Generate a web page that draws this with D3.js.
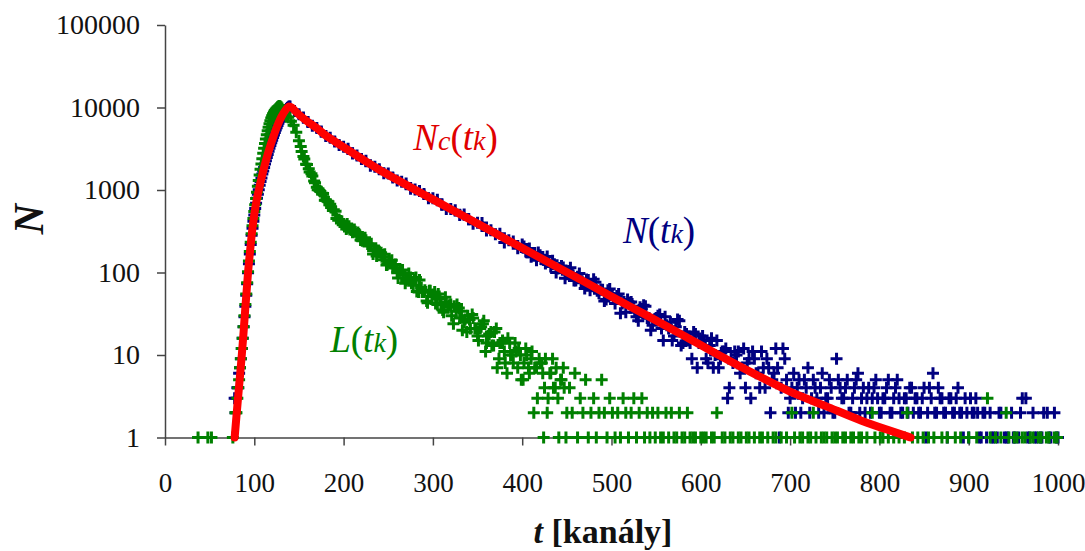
<!DOCTYPE html>
<html>
<head>
<meta charset="utf-8">
<script src="https://cdn.jsdelivr.net/npm/d3@7"></script>
<style>
  body { margin: 0; background: #fff; }
  svg { display: block; }
  svg text { font-family: "Liberation Serif", "Times New Roman", Tinos, "DejaVu Serif", "Noto Serif", serif !important; }
</style>
</head>
<body>
<svg width="1085" height="551"></svg>
<script>
// axis ticks
var xTicks = [0, 100, 200, 300, 400, 500, 600, 700, 800, 900, 1000];
var yTicks = [1, 10, 100, 1000, 10000, 100000];

// N(t_k) measured spectrum, [channel, counts]
var nRise = [[78,3],[79,2],[80,3],[81,4],[82,4],[83,6],[84,7],[85,9],[86,12],[87,16],[88,22],[89,29],
  [90,39],[91,53],[92,73],[93,99],[94,128],[95,168],[96,219],[97,283],[98,345],[99,418],[100,497],
  [101,598],[102,690],[103,792],[104,890],[105,1010],[106,1140],[107,1270],[108,1400],[109,1560],
  [110,1700],[111,1880],[112,2060],[113,2260],[114,2480],[115,2700],[116,2940],[117,3200],[118,3460],
  [119,3740],[120,4020],[121,4330],[122,4640],[123,4970],[124,5320],[125,5700],[126,6060],[127,6440],
  [128,6820],[129,7210],[130,7600],[131,7960],[132,8330],[133,8680],[134,9010],[135,9310],[136,9600],
  [137,9850],[138,10090],[139,10250]];
var nDecay = [[140,10260],[145,9054],[150,8273],[155,7539],[160,6667],[165,6015],[170,5628],[175,5134],
  [180,4522],[185,4298],[190,3878],[195,3512],[200,3345],[205,3154],[210,2770],[215,2620],[220,2375],
  [225,2265],[230,1972],[235,1909],[240,1787],[245,1600],[250,1586],[255,1418],[260,1305],[265,1263],
  [270,1198],[275,1038],[280,1012],[285,970],[290,892],[295,793],[300,793],[305,760],[310,663],
  [315,588],[320,589],[325,569],[330,496],[335,505],[340,443],[345,391],[350,402],[355,399],[360,324],
  [365,325],[370,290],[375,295],[380,231],[385,246],[390,238],[395,197],[400,218],[404,180],[408,195],
  [412,172],[416,141],[420,162],[424,142],[428,156],[432,118],[436,126],[440,112],[444,120],[448,85],
  [452,104],[456,93],[460,80],[464,97],[468,75],[472,82],[476,61],[480,83],[484,60],[488,62],[492,45],
  [496,61],[500,55],[504,42],[508,55],[512,42],[516,33],[520,43],[524,39],[528,29],[532,38],[536,40],
  [540,28],[544,20],[548,27],[552,30],[556,21],[560,29],[564,21],[568,15],[572,22],[576,26],[580,14],
  [584,18],[588,14],[592,19],[596,7],[600,14],[604,15],[608,8],[612,16],[616,10],[620,7],[624,11],
  [628,12],[632,4],[636,8],[640,10],[644,6],[648,12],[652,8],[656,3],[660,9],[664,6],[668,11],[672,4],
  [676,7],[680,5],[684,12],[688,1],[692,12],[696,5]];
var nDecayB = [[402,207],[406,176],[410,155],[414,172],[418,175],[422,145],[426,129],[430,136],
  [434,139],[438,100],[442,113],[446,115],[450,95],[454,114],[458,80],[462,89],[466,78],[470,64],
  [474,81],[478,69],[482,76],[486,56],[490,62],[494,47],[498,63],[502,49],[506,52],[510,32],[514,44],
  [518,47],[522,44],[526,33],[530,26],[534,36],[538,39],[542,28],[546,23],[550,28],[554,31],[558,15],
  [562,23],[566,25],[570,17],[574,27],[578,13],[582,19],[586,15],[590,9],[594,18],[598,14],[602,17],
  [606,9],[610,13],[614,7],[618,15],[622,9],[626,11],[630,3],[634,9],[638,11],[642,11],[646,7],
  [650,4],[654,9],[658,11],[662,6],[666,4],[670,7],[674,9],[678,2],[682,6],[686,7],[690,4],[694,9],
  [698,2]];
var nTail = [[700,3],[702,4],[704,6],[706,2],[708,4],[710,5],[712,2],[714,3],[716,5],[718,4],[720,7],
  [722,2],[724,3],[726,5],[728,4],[730,3],[732,2],[734,4],[736,6],[738,2],[740,3],[742,3],[744,5],
  [746,4],[748,2],[750,2],[752,9],[754,5],[756,4],[758,3],[760,3],[762,4],[764,5],[766,2],[768,2],
  [770,3],[772,4],[774,5],[776,6],[778,2],[780,3],[782,4],[784,2],[786,3],[788,4],[790,2],[792,3],
  [794,4],[796,5],[798,3],[800,2],[802,2],[804,3],[806,3],[808,4],[810,5],[812,2],[814,2],[816,3],
  [818,4],[820,5],[822,3],[824,2],[826,2],[828,3],[830,3],[832,2],[834,4],[836,4],[838,2],[840,3],
  [842,3],[844,2],[846,2],[848,3],[850,4],[852,1],[854,2],[856,4],[858,3],[860,6],[862,2],[864,2],
  [866,4],[868,3],[870,3],[872,2],[874,2],[876,1],[878,3],[880,3],[882,2],[884,2],[886,3],[888,4],
  [890,2],[892,2],[894,1],[896,3],[898,2],[900,1],[902,3],[904,2],[906,2],[908,3],[910,2],[912,1],
  [914,1],[916,2],[918,2],[920,1],[924,2],[926,1],[928,1],[932,1],[934,2],[936,2],[940,1],[942,1],
  [944,1],[948,2],[950,1],[952,1],[956,1],[958,2],[960,3],[964,3],[966,1],[968,1],[972,2],[974,1],
  [976,1],[980,1],[982,1],[984,2],[988,2],[990,1],[992,1],[996,2],[998,1],[1000,1]];

// L(t_k) response, [channel, counts]
var lRise = [[37,1],[48,1],[52,1],[76,1],[79,2],[80,2],[81,3],[82,4],[83,5],[84,7],[85,9],[86,12],
  [87,16],[88,22],[89,30],[90,41],[91,55],[92,75],[93,102],[94,138],[95,180],[96,232],[97,295],
  [98,368],[99,452],[100,548],[101,662],[102,790],[103,940],[104,1110],[105,1300],[106,1520],
  [107,1780],[108,2070],[109,2400],[110,2780],[111,3200],[112,3660],[113,4150],[114,4680],[115,5220],
  [116,5780],[117,6340],[118,6900],[119,7440],[120,7950],[121,8420],[122,8850],[123,9220],[124,9530],
  [125,9770],[126,10100],[127,10300],[128,10400],[129,10300],[130,10100],[131,9750],[132,9300],
  [133,8850],[134,8500],[135,8200]];
var lDecay = [[138,7616],[141,6809],[144,6092],[147,5005],[150,3955],[153,2932],[156,2375],[159,2040],
  [162,1651],[165,1476],[168,1223],[171,1008],[174,959],[177,905],[180,751],[183,719],[186,614],
  [189,578],[192,450],[195,440],[198,416],[201,360],[204,386],[207,333],[210,307],[213,312],[216,305],
  [219,247],[222,257],[225,246],[228,210],[231,223],[234,193],[237,158],[240,179],[243,155],[246,167],
  [249,125],[252,133],[255,117],[258,125],[261,86],[264,106],[267,93],[270,80],[273,97],[276,74],
  [279,81],[282,59],[285,81],[288,58],[291,61],[294,43],[297,60],[300,54],[303,42],[306,55],[309,42],
  [312,33],[315,44],[318,40],[321,30],[324,39],[327,41],[330,28],[333,20],[336,27],[339,30],[342,21],
  [345,28],[348,21],[351,15],[354,22],[357,26],[360,14],[363,18],[366,13],[369,19],[372,7],[375,14],
  [378,15],[381,8],[384,16],[387,10],[390,8],[393,11],[396,12],[399,5],[402,8],[405,10],[408,6],
  [411,11],[414,7],[417,3],[420,8],[423,6],[424,1],[426,9],[429,3],[432,6],[435,4],[438,7],[441,1],
  [444,5],[447,4],[450,2]];
var lDecayB = [[152,3357],[155,2545],[158,2046],[161,1805],[164,1572],[167,1283],[170,1080],[173,984],
  [176,916],[179,752],[182,733],[185,673],[188,564],[191,553],[194,430],[197,421],[200,381],[203,337],
  [206,363],[209,327],[212,332],[215,278],[218,283],[221,242],[224,264],[227,222],[230,219],[233,168],
  [236,185],[239,185],[242,173],[245,143],[248,123],[251,138],[254,141],[257,113],[260,99],[263,105],
  [266,107],[269,74],[272,86],[275,87],[278,70],[281,87],[284,58],[287,66],[290,58],[293,45],[296,60],
  [299,51],[302,58],[305,41],[308,48],[311,35],[314,50],[317,38],[320,41],[323,24],[326,34],[329,37],
  [332,34],[335,25],[338,19],[341,27],[344,31],[347,21],[350,17],[353,21],[356,24],[359,11],[362,17],
  [365,19],[368,13],[371,21],[374,9],[377,14],[380,11],[383,6],[386,14],[389,10],[392,14],[395,7],
  [398,10],[401,5],[404,12],[407,7],[410,9],[413,2],[416,7],[419,9],[422,8],[425,4],[428,2],[431,6],
  [434,9],[437,4],[440,3],[443,5],[446,7],[449,1]];
var lTail = [[453,4],[456,2],[459,6],[462,1],[465,3],[468,2],[471,5],[474,1],[477,2],[480,3],[483,1],
  [486,2],[489,5],[492,2],[495,1],[498,3],[501,2],[504,1],[507,2],[510,1],[513,3],[516,2],[519,1],
  [522,2],[525,3],[528,1],[531,2],[534,3],[537,1],[540,2],[543,1],[546,2],[549,1],[552,2],[555,1],
  [558,1],[561,2],[564,1],[567,2],[570,1],[573,1],[576,2],[579,1],[582,1],[585,2],[588,1],[591,1],
  [594,1],[600,1],[603,1],[606,1],[612,1],[615,1],[618,2],[624,1],[627,1],[633,1],[636,1],[642,1],
  [645,1],[651,1],[654,1],[660,1],[666,1],[669,1],[675,1],[681,1],[684,1],[690,1],[696,1],[702,2],
  [705,1],[711,1],[714,1],[720,1],[723,1],[726,2],[729,1],[735,1],[738,1],[741,1],[747,1],[750,1],
  [753,1],[759,1],[762,1],[768,1],[771,1],[777,1],[780,1],[786,1],[792,2],[795,1],[801,1],[804,1],
  [810,1],[816,1],[822,1],[828,1],[831,2],[837,1],[843,1],[849,1],[855,1],[861,1],[870,1],[876,1],
  [885,1],[891,1],[900,1],[909,1],[921,3],[924,1],[930,1],[936,1],[942,2],[945,1],[951,1],[954,1],
  [960,1],[963,1],[969,1],[972,1],[978,1],[981,1],[987,1],[990,1],[996,1],[999,1]];

// N_c(t_k) fitted curve, [channel, counts]
var ncFit = [[78,1],[80,1.8],[82,3.2],[84,5.6],[86,10],[88,19],[90,38],[92,72],[93,100],[95,170],
  [97,280],[99,420],[101,600],[103,790],[105,1000],[110,1700],[115,2700],[120,4000],[125,5700],
  [130,7600],[135,9300],[139,10300],[142,10000],[146,9000],[150,8200],[160,6700],[170,5620],
  [180,4570],[190,3890],[200,3310],[220,2400],[240,1760],[260,1330],[280,1010],[300,770],[340,447],
  [380,260],[420,151],[460,88],[500,51],[540,30],[580,17.4],[620,10],[660,5.9],[700,3.6],[740,2.4],
  [780,1.6],[810,1.23],[835,1]];

var svg = d3.select("svg");
var plotLeft = 165, plotRight = 1058, plotTop = 25, plotBottom = 437.5;

var x = d3.scaleLinear().domain([0, 1000]).range([plotLeft, plotRight]);
var y = d3.scaleLog().domain([1, 100000]).range([plotBottom, plotTop]);

var axisColor = "#444";

// x axis
var gx = svg.append("g")
  .attr("transform", "translate(0," + plotBottom + ")")
  .call(d3.axisBottom(x).tickValues(xTicks).tickFormat(d3.format("d"))
    .tickSize(8).tickSizeOuter(0).tickPadding(27));
gx.select(".domain").attr("stroke", axisColor).attr("stroke-width", 1.5);
gx.selectAll(".tick line").attr("stroke", axisColor).attr("stroke-width", 1.5);
gx.selectAll(".tick text").attr("font-size", 27).attr("fill", "#111");

// y axis
var gy = svg.append("g")
  .attr("transform", "translate(" + plotLeft + ",0)")
  .call(d3.axisLeft(y).tickValues(yTicks).tickFormat(d3.format("d"))
    .tickSize(8).tickSizeOuter(0).tickPadding(17));
gy.select(".domain").attr("stroke", axisColor).attr("stroke-width", 1.5);
gy.selectAll(".tick line").attr("stroke", axisColor).attr("stroke-width", 1.5);
gy.selectAll(".tick text").attr("font-size", 28).attr("fill", "#111");

// axis titles
var xt = svg.append("text")
  .attr("x", 603).attr("y", 543)
  .attr("text-anchor", "middle")
  .attr("font-size", 34).attr("font-weight", "bold").attr("fill", "#111");
xt.append("tspan").attr("font-style", "italic").text("t");
xt.append("tspan").text(" [kanály]");

svg.append("text")
  .attr("transform", "translate(43,219) rotate(-90)")
  .attr("text-anchor", "middle")
  .attr("font-size", 42).attr("font-weight", "bold").attr("font-style", "italic")
  .attr("fill", "#111")
  .text("N");

// crosses
var cross = "M-6,0H6M0,-6V6";
function drawCrosses(data, color) {
  svg.append("g").selectAll("path")
    .data(data)
    .enter()
    .append("path")
    .attr("d", cross)
    .attr("transform", function (d) {
      return "translate(" + x(d[0]) + "," + y(d[1]) + ")";
    })
    .attr("stroke", color)
    .attr("stroke-width", 3)
    .attr("fill", "none");
}

drawCrosses(nRise.concat(nDecay, nDecayB, nTail), "#000080");
drawCrosses(lRise.concat(lDecay, lDecayB, lTail), "#008000");

// fitted curve
var line = d3.line()
  .x(function (d) { return x(d[0]); })
  .y(function (d) { return y(d[1]); })
  .curve(d3.curveMonotoneX);

svg.append("path")
  .datum(ncFit)
  .attr("d", line)
  .attr("fill", "none")
  .attr("stroke", "#ff0000")
  .attr("stroke-width", 8)
  .attr("stroke-linejoin", "round")
  .attr("stroke-linecap", "round");

// series labels
function seriesLabel(t, v, main, color, hasC) {
  var tx = svg.append("text")
    .attr("x", x(t)).attr("y", y(v))
    .attr("font-size", 37).attr("font-style", "italic")
    .attr("fill", color);
  tx.append("tspan").text(main);
  if (hasC) tx.append("tspan").attr("font-size", 28).text("c");
  tx.append("tspan").attr("font-style", "normal").text("(");
  tx.append("tspan").text("t");
  tx.append("tspan").attr("font-size", 28).text("k");
  tx.append("tspan").attr("font-style", "normal").text(")");
}

seriesLabel(278, 3055, "N", "#e00000", true);
seriesLabel(513, 228, "N", "#000080", false);
seriesLabel(185, 10.9, "L", "#008000", false);
</script>
</body>
</html>
